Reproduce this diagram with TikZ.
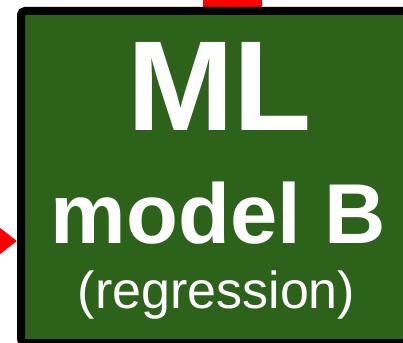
\documentclass[tikz,border=0pt]{standalone}
\usepackage{fontspec}
\setmainfont{Liberation Sans}
\definecolor{mlgreen}{RGB}{45,98,27}
\begin{document}
\begin{tikzpicture}[x=1pt,y=-1pt,
  boxstyle/.style={draw=black, line width=8pt, fill=mlgreen, rounded corners=4pt},
  arrowfill/.style={fill=red, draw=none},
  lbl/.style={text=white, anchor=base, inner sep=0pt}]
\useasboundingbox (0,0) rectangle (403,342);
\clip (0,0) rectangle (403,342);
\fill[arrowfill] (203.3,-2) rectangle (261.5,12);
\draw[boxstyle] (21,11) rectangle (430,343);
\fill[arrowfill] (16.8,241) -- (-2,226.3) -- (-2,255.7) -- cycle;
\node[lbl, font=\fontsize{128}{128}\selectfont\bfseries] (ml) at (219.5,130) {ML};
\node[lbl, font=\fontsize{85}{85}\selectfont\bfseries] (model) at (218.5,243) {model B};
\node[lbl, font=\fontsize{52}{52}\selectfont] (reg) at (216.5,308) {(regression)};
\end{tikzpicture}
\end{document}
